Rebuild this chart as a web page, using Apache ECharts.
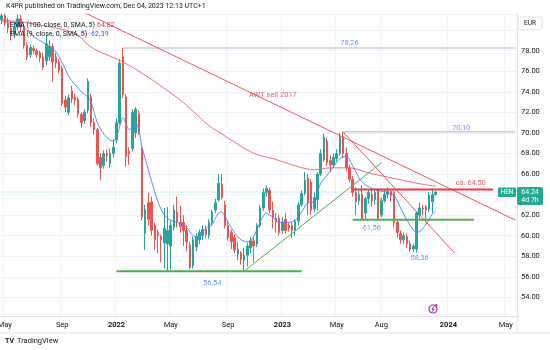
<!DOCTYPE html>
<html><head><meta charset="utf-8">
<script src="https://cdn.jsdelivr.net/npm/echarts@6/dist/echarts.min.js"></script>
<style>html,body{margin:0;padding:0;background:#fff}#c{width:550px;height:350px}</style>
</head><body><div id="c"></div>
<script>
// ---- data (weekly candles, K4PR / HEN, EUR) ----
const startDate = '2021-04-26';
const opens = [
81.0,81.4,80.7,80.2,79.6,80.3,81.1,80.3,78.5,77.6,
78.2,78.0,77.8,77.4,77.0,77.4,78.4,77.4,76.9,76.3,
73.2,72.0,74.1,73.5,73.3,71.8,71.2,72.2,73.5,71.0,
70.3,67.6,66.8,68.0,67.0,68.0,69.3,71.0,77.4,73.5,
68.2,68.5,70.0,71.9,68.5,60.2,63.2,63.3,61.0,60.3,
59.9,59.3,59.2,59.0,60.8,62.3,61.3,61.3,60.5,59.1,
57.1,58.9,59.6,60.0,60.6,60.0,61.3,62.5,63.5,65.0,
63.0,61.0,60.3,59.8,58.2,58.3,57.6,58.1,58.8,59.5,
59.2,61.0,62.7,64.2,64.4,62.5,61.7,61.7,60.5,61.6,
61.0,61.0,60.5,61.4,63.0,64.1,65.6,65.2,62.6,63.5,
66.0,67.4,69.2,67.3,66.9,67.5,68.0,69.6,68.0,66.6,
65.5,64.2,63.4,64.0,62.2,63.6,64.0,63.5,64.4,62.0,
63.4,64.0,64.3,64.2,61.3,60.2,59.6,59.9,59.2,58.7,
58.7,62.0,62.7,62.8,62.6,63.3,64.0];
const closes = [
81.4,80.7,80.2,79.6,80.3,81.1,80.3,78.5,77.4,78.3,
78.0,77.6,77.3,76.4,78.7,78.4,76.9,76.8,76.1,72.9,
72.5,73.4,73.3,73.2,71.9,71.0,72.0,75.0,71.0,70.3,
67.0,66.6,68.0,67.8,68.0,68.6,71.0,76.8,73.7,67.7,
68.0,72.0,72.3,70.0,61.8,62.5,61.6,60.5,59.6,60.0,
59.6,60.7,60.5,61.0,62.5,61.3,60.9,60.5,59.4,56.9,
59.6,59.9,60.3,60.6,60.1,61.3,62.3,63.2,65.1,63.7,
61.0,59.8,59.4,58.6,58.7,57.7,58.1,59.0,59.5,59.0,
61.0,62.7,64.2,64.6,62.5,61.7,61.3,60.3,61.3,60.5,
60.8,60.5,61.4,63.0,64.1,65.4,63.2,62.5,63.7,66.0,
68.0,69.6,67.1,66.9,67.6,68.0,69.6,68.0,66.6,65.5,
64.2,63.3,64.0,61.6,63.6,64.2,63.4,64.2,61.7,63.4,
64.0,64.3,63.9,61.3,60.3,59.6,60.0,59.2,58.7,59.0,
62.2,62.7,62.6,62.5,63.9,64.0,64.24];
const lows = [
80.6,80.4,79.7,79.0,79.2,80.0,79.8,78.2,77.1,77.3,
77.7,77.3,76.9,76.1,76.6,77.0,75.0,76.3,75.8,72.6,
72.0,71.7,72.9,72.7,71.5,70.5,70.9,71.9,70.6,69.8,
66.8,65.4,66.5,67.2,66.6,67.6,69.0,70.8,73.4,66.7,
66.9,68.2,69.5,69.8,61.5,58.6,61.0,60.0,58.6,58.3,
57.4,56.8,56.54,56.7,60.5,60.8,60.3,59.0,58.5,56.7,
56.8,58.5,59.2,59.6,59.8,59.7,61.0,62.2,63.3,63.5,
60.7,59.5,58.7,58.3,57.6,57.2,56.54,57.0,58.3,57.4,
58.9,60.8,62.4,63.8,62.2,60.7,60.3,60.0,60.2,60.2,
60.4,59.8,60.0,61.0,62.8,63.9,62.0,62.0,62.3,62.4,
65.8,67.2,66.8,66.2,66.6,67.2,67.8,67.6,66.3,65.2,
63.8,62.0,63.0,61.56,61.6,63.1,62.8,63.0,61.56,61.8,
63.2,63.6,63.3,60.8,59.8,59.2,59.2,58.8,58.4,58.4,
58.36,61.6,62.0,61.3,62.3,62.2,63.9];
const highs = [
81.6,81.6,81.2,80.8,80.7,81.5,81.5,80.6,78.8,78.6,
78.5,78.2,78.0,77.8,79.5,79.0,78.7,77.8,77.2,76.5,
73.6,73.7,74.6,73.8,73.5,72.0,72.3,75.3,73.8,71.4,
70.5,68.0,68.3,68.4,68.5,69.4,71.4,77.2,78.26,73.8,
68.6,72.3,72.5,72.2,68.6,63.0,64.2,63.8,61.3,60.6,
60.1,62.7,62.8,61.5,63.0,63.8,62.9,62.0,61.0,59.4,
59.9,60.2,60.6,61.0,61.0,61.6,62.5,63.6,66.0,66.0,
63.4,61.4,60.6,60.1,59.4,58.5,58.8,59.3,59.9,59.8,
61.2,63.0,64.6,64.9,64.7,63.3,62.2,62.0,61.8,62.2,
61.3,61.3,61.6,63.3,64.4,66.2,66.0,65.5,64.2,66.2,
68.4,69.9,69.5,67.8,68.0,68.4,70.0,70.10,68.6,66.9,
65.8,64.7,64.4,64.9,63.8,64.4,64.6,64.5,64.6,63.7,
64.5,64.7,64.5,64.4,61.6,60.5,60.3,60.2,59.5,59.2,
62.4,63.2,63.0,63.0,64.2,64.6,64.3];
// EMA(100): [week index, value]
const ema100 = [[0,81.0],[6,80.8],[12,80.5],[17,80.2],[20,80.0],[24,79.5],[27,78.6],[30,78.0],[33,77.6],[36,77.2],[41,76.4],[44,75.8],[47,75.2],[52,74.1],[56,73.2],[60,72.1],[65,70.7],[68,70.1],[72,69.3],[76,68.5],[80,67.9],[85,67.5],[89,67.1],[93,66.7],[98,66.4],[103,66.6],[109,66.6],[115,66.1],[121,65.7],[127,65.3],[132,65.0],[136,64.82]];
// EMA(9)
const ema9 = [[0,80.9],[4,80.7],[7,80.3],[10,79.4],[13,78.8],[15,78.4],[17,77.9],[18,77.4],[20,76.2],[21,75.5],[23,74.7],[25,74.0],[27,73.5],[28,73.0],[29,72.0],[30,71.0],[32,69.9],[34,69.3],[35,69.2],[36,69.6],[37,70.6],[38,71.5],[39,70.9],[40,70.3],[41,70.6],[42,71.0],[43,70.3],[44,68.6],[45,67.5],[46,66.4],[47,65.3],[49,63.3],[51,62.0],[53,61.5],[55,61.3],[57,61.0],[58,60.8],[60,60.0],[61,59.9],[63,60.3],[64,60.7],[66,61.1],[67,61.7],[68,62.2],[69,62.3],[70,61.9],[71,61.3],[73,60.3],[75,59.6],[77,59.4],[78,59.5],[79,59.9],[81,61.3],[83,62.2],[84,62.0],[85,61.8],[87,61.3],[90,61.3],[92,61.5],[94,62.3],[96,63.2],[98,63.3],[99,64.2],[100,65.1],[102,65.9],[104,66.7],[106,67.5],[108,67.7],[109,67.4],[110,66.8],[111,66.2],[113,65.2],[116,64.6],[118,64.4],[121,64.2],[123,63.9],[124,63.4],[125,62.7],[126,62.1],[128,61.0],[129,60.6],[130,60.3],[131,60.4],[132,60.7],[133,61.1],[134,61.6],[135,62.1],[136,62.39]];
// drawings
const awtLine = [[20,82.6],[161,61.51]];
const steepLine = [[107,70.1],[142,58.3]];
const resistance = [[110,64.5],[154,64.5]];
const support56 = [[36,56.54],[94,56.54]];
const support61 = [[110,61.56],[148,61.56]];
const upTrend = [[76,56.54],[119,67.1]];
const high78 = [[38,78.26],[161,78.26]];
const high70 = [[107,70.10],[161,70.10]];
const lastPrice = 64.24;
const blueNotes = [[109,78.75,'78,26'],[144,70.47,'70,10'],[116,60.7,'61,56'],[131,57.8,'58,36'],[66,55.4,'56,54']];
const redNotes = [[85,73.7,'AWT sell 2017'],[147,65.1,'ca. 64,50']];
// time axis ticks
const weekCount = 162;
const tickIndex = [1,19,36,53,71,88,105,119,140,158];
const tickText = ['May','Sep','2022','May','Sep','2023','May','Aug','2024','May'];

// ---- build ----
const cats = [];
const d0 = new Date(startDate + 'T00:00:00Z');
for (let k = 0; k < weekCount; k++) {
  const d = new Date(d0.getTime() + k * 7 * 86400000);
  cats.push(d.toISOString().slice(0, 10));
}
const candleData = opens.map((o, k) => [o, closes[k], lows[k], highs[k]]);
const tickSet = new Set(tickIndex);
const UP = '#26a69a', DOWN = '#ef5350', FONT = 'Roboto, "Noto Sans", sans-serif';

function seg(data, color, width, type, z, opacity) {
  return {type: 'line', data: data, symbol: 'none', silent: true, z: z || 4,
    lineStyle: {color: color, width: width, type: type || 'solid', opacity: opacity == null ? 1 : opacity}, animation: false};
}
function notes(arr, color) {
  return {type: 'scatter', symbolSize: 1, itemStyle: {color: 'rgba(0,0,0,0)'}, z: 6, silent: true,
    data: arr.map(a => ({value: [a[0], a[1]], name: a[2]})),
    label: {show: true, position: 'inside', formatter: '{b}', color: color, fontSize: 7.5, fontFamily: FONT}};
}

const chart = echarts.init(document.getElementById('c'), null, {renderer: 'canvas'});
chart.setOption({
  animation: false,
  backgroundColor: '#ffffff',
  grid: {left: 0, right: 33, top: 14, bottom: 33.5, containLabel: false, outerBoundsMode: 'none'},
  xAxis: {
    type: 'category', data: cats, boundaryGap: true,
    axisLine: {show: true, lineStyle: {color: '#e0e3eb'}},
    axisTick: {show: false},
    axisLabel: {
      interval: (idx) => tickSet.has(idx), hideOverlap: false,
      formatter: (v, idx) => { const p = tickIndex.indexOf(idx); if (p < 0) return ''; const t = tickText[p]; return /^\d{4}$/.test(t) ? '{b|' + t + '}' : t; },
      color: '#131722', fontSize: 7.5, fontFamily: FONT, margin: 5,
      rich: {b: {fontWeight: 'bold', fontSize: 7.5, color: '#131722', fontFamily: FONT}}
    },
    splitLine: {show: true, interval: (idx) => tickSet.has(idx), lineStyle: {color: '#f0f3fa', width: 1}}
  },
  yAxis: {
    type: 'value', position: 'right', min: 52.135, max: 81.57, splitNumber: 15, scale: true,
    axisLine: {show: true, lineStyle: {color: '#e0e3eb'}},
    axisTick: {show: false},
    axisLabel: {margin: 4, fontSize: 7.5, fontFamily: FONT, color: '#131722',
      formatter: (v) => { const r = Math.round(v); return (Math.abs(v - r) < 1e-6 && r % 2 === 0 && r >= 54 && r <= 78) ? r.toFixed(2) : ''; }},
    splitLine: {show: true, lineStyle: {color: '#f0f3fa', width: 1}}
  },
  series: [
    {type: 'candlestick', data: candleData, barWidth: 2, z: 2, silent: true,
      itemStyle: {color: UP, color0: DOWN, borderColor: UP, borderColor0: DOWN, borderWidth: 1}},
    Object.assign(seg(ema100, '#f7525f', 1, 'solid', 3, 0.85), {smooth: 0.3}),
    Object.assign(seg(ema9, '#4a7dff', 1, 'solid', 3, 0.9), {smooth: 0.3}),
    seg([[0, lastPrice], [weekCount - 1, lastPrice]], '#22ab94', 1, [1, 2], 3, 0.6),
    seg(high78, '#b2b5be', 1),
    seg(high70, '#b2b5be', 1),
    seg(awtLine, '#f23645', 1, 'solid', 4, 0.85),
    seg(steepLine, '#f23645', 1, 'solid', 4, 0.85),
    seg(resistance, '#f23645', 2),
    seg(support56, '#4caf50', 2),
    seg(support61, '#4caf50', 2),
    seg(upTrend, '#4caf50', 1),
    notes(blueNotes, '#4a7dff'),
    notes(redNotes, '#f23645')
  ],
  graphic: [
    {type: 'text', x: 6, y: 6, z: 100, style: {text: 'K4PR published on TradingView.com, Dec 04, 2023 12:13 UTC+1', fill: '#131722', font: '7px ' + FONT, verticalAlign: 'middle'}},
    {type: 'text', x: 10, y: 25, z: 100, style: {text: 'EMA (100, close, 0, SMA, 5)', fill: '#131722', font: '7px ' + FONT, verticalAlign: 'middle'}},
    {type: 'text', x: 97, y: 25, z: 100, style: {text: '64.82', fill: '#f23645', font: '7px ' + FONT, verticalAlign: 'middle'}},
    {type: 'text', x: 10, y: 34, z: 100, style: {text: 'EMA (9, close, 0, SMA, 5)', fill: '#131722', font: '7px ' + FONT, verticalAlign: 'middle'}},
    {type: 'text', x: 91, y: 34, z: 100, style: {text: '62.39', fill: '#2962ff', font: '7px ' + FONT, verticalAlign: 'middle'}},
    {type: 'rect', z: 100, shape: {x: 518, y: 17, width: 24, height: 13, r: 3}, style: {fill: '#fff', stroke: '#e0e3eb', lineWidth: 1}},
    {type: 'text', x: 530, y: 23.5, z: 101, style: {text: 'EUR', fill: '#131722', font: '6.5px ' + FONT, align: 'center', verticalAlign: 'middle'}},
    {type: 'rect', z: 100, shape: {x: 498, y: 187.5, width: 18, height: 9.5, r: 1}, style: {fill: '#22ab94'}},
    {type: 'text', x: 507, y: 192.3, z: 101, style: {text: 'HEN', fill: '#fff', font: '6.5px ' + FONT, align: 'center', verticalAlign: 'middle'}},
    {type: 'rect', z: 100, shape: {x: 517, y: 187, width: 26, height: 18, r: 2}, style: {fill: '#22ab94'}},
    {type: 'text', x: 530, y: 192, z: 101, style: {text: '64.24', fill: '#fff', font: '7px ' + FONT, align: 'center', verticalAlign: 'middle'}},
    {type: 'text', x: 530, y: 200.5, z: 101, style: {text: '4d 7h', fill: '#fff', font: '7px ' + FONT, align: 'center', verticalAlign: 'middle'}},
    {type: 'line', z: 100, shape: {x1: 0, y1: 333, x2: 550, y2: 333}, style: {stroke: '#e0e3eb', lineWidth: 1}},
    {type: 'line', z: 100, shape: {x1: 517, y1: 316, x2: 517, y2: 333}, style: {stroke: '#e0e3eb', lineWidth: 1}},
    {type: 'circle', z: 100, shape: {cx: 433, cy: 309, r: 4}, style: {fill: '#fff', stroke: '#9c27b0', lineWidth: 1.2}},
    {type: 'polyline', z: 101, shape: {points: [[434, 306.5], [432, 309.3], [434, 309.3], [432, 311.8]]}, style: {stroke: '#9c27b0', lineWidth: 1, fill: null}},
    {type: 'circle', z: 102, shape: {cx: 436, cy: 305.5, r: 1.4}, style: {fill: '#f23645'}},
    {type: 'text', x: 5, y: 341, z: 100, style: {text: 'TV', fill: '#131722', font: 'bold 7px ' + FONT, verticalAlign: 'middle'}},
    {type: 'text', x: 17, y: 341, z: 100, style: {text: 'TradingView', fill: '#131722', font: '7.5px ' + FONT, verticalAlign: 'middle'}}
  ]
});
</script>
</body></html>
